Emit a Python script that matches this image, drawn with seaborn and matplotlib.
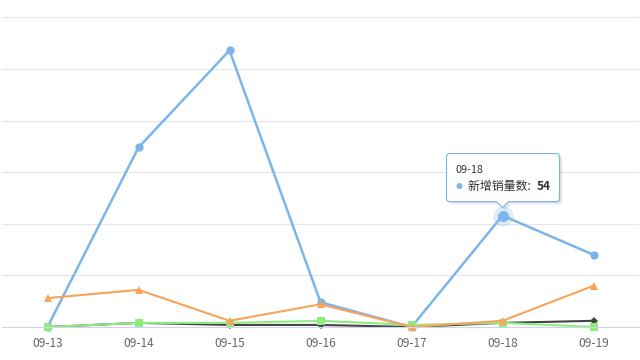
import numpy as np
import pandas as pd
import matplotlib
matplotlib.use("Agg")
from matplotlib import pyplot as plt
from matplotlib import transforms
from matplotlib.patches import Polygon, Circle
import seaborn as sns

# data
dates = ['09-13', '09-14', '09-15', '09-16', '09-17', '09-18', '09-19']
new_sales = [0, 87, 134, 12, 0, 54, 35]
new_orders = [0, 2, 1, 1, 0, 2, 3]
new_customers = [0, 2, 2, 3, 1, 2, 0]
new_returns = [14, 18, 3, 11, 0, 3, 20]
y_ticks = [0, 25, 50, 75, 100, 125, 150]

hover_index = 5
hover_name = '新增销量数'

df = pd.DataFrame({'日期': dates,
                   '新增销量数': new_sales,
                   '新增订单数': new_orders,
                   '新增客户数': new_customers,
                   '新增退货数': new_returns})

# column, colour, marker, marker size, line width (drawn in this order)
styles = [('新增销量数', '#7cb5ec', 'o', 6.0, 1.8),
          ('新增订单数', '#434348', 'D', 4.2, 1.5),
          ('新增客户数', '#90ed7d', 's', 5.8, 1.5),
          ('新增退货数', '#f7a35c', '^', 6.3, 1.5)]

sns.set_style('white')
plt.rcParams['font.family'] = ['Noto Sans CJK SC', 'DejaVu Sans']

fig = plt.figure(figsize=(6.4, 3.6), dpi=100)
ax = fig.add_axes([2 / 640, 33 / 360, 637 / 640, 309.6 / 360])

for col, color, marker, ms, lw in styles:
    sns.lineplot(data=df, x='日期', y=col, color=color, marker=marker,
                 markersize=ms, markeredgewidth=0, linewidth=lw,
                 ax=ax, legend=False, sort=False)

for line in ax.lines:
    line.set_clip_on(False)

# hovered point with halo
hx, hy = dates[hover_index], new_sales[hover_index]
ax.scatter([hx], [hy], s=210, color='#7cb5ec', alpha=0.25, linewidths=0,
           zorder=5, clip_on=False)
ax.scatter([hx], [hy], s=62, color='#7cb5ec', linewidths=0, zorder=6,
           clip_on=False)

ax.set_xlim(-0.5, len(dates) - 0.5)
ax.set_ylim(y_ticks[0], y_ticks[-1])
ax.set_yticks(y_ticks)
ax.tick_params(axis='y', left=False, labelleft=False)
ax.yaxis.grid(True, color='#e6e6e6', linewidth=0.8)
ax.set_axisbelow(True)

for side in ['top', 'left', 'right']:
    ax.spines[side].set_visible(False)
ax.spines['bottom'].set_color('#ccd6eb')
ax.spines['bottom'].set_linewidth(0.8)

ax.set_xticks(np.arange(-0.5, len(dates)), minor=True)
ax.tick_params(axis='x', which='major', length=0, pad=7, labelsize=8.6,
               labelcolor='#666666')
ax.tick_params(axis='x', which='minor', length=6, width=0.8, color='#ccd6eb')
ax.set_xlabel('')
ax.set_ylabel('')

# tooltip, laid out in pixels around the hovered point
px = transforms.IdentityTransform() + transforms.ScaledTranslation(
    hover_index, hy, ax.transData)

L, R, B, T, c = -56, 57, 14, 62, 2
verts = [(L + c, B), (-6, B), (0, 8), (6, B), (R - c, B), (R, B + c),
         (R, T - c), (R - c, T), (L + c, T), (L, T - c), (L, B + c)]

for k in (1, 2, 3):
    shadow = Polygon([(x + k, y - k) for x, y in verts], closed=True,
                     transform=px, facecolor='black', edgecolor='none',
                     alpha=0.05, zorder=9, clip_on=False)
    ax.add_artist(shadow)

box = Polygon(verts, closed=True, transform=px, facecolor='white',
              edgecolor='#7cb5ec', linewidth=0.8, zorder=10, clip_on=False)
ax.add_artist(box)

ax.text(-47, 46, hx, transform=px, fontsize=7.8, color='#333333',
        ha='left', va='center', zorder=11)
ax.add_artist(Circle((-43, 29.5), 3, transform=px, facecolor='#7cb5ec',
                     edgecolor='none', zorder=11, clip_on=False))
ax.text(-35, 29.5, hover_name + ': ', transform=px, fontsize=8.6,
        color='#333333', ha='left', va='center', zorder=11)
ax.text(34, 29.5, str(hy), transform=px, fontsize=8.6, color='#333333',
        fontweight='bold', ha='left', va='center', zorder=11)

fig.savefig('out.png', dpi=100)
